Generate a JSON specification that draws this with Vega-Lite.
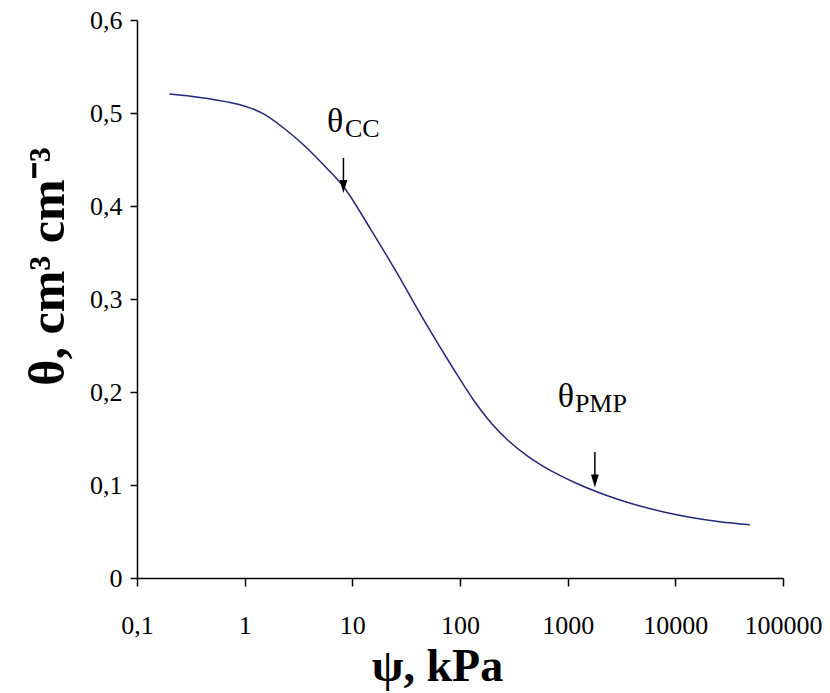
{
  "$schema": "https://vega.github.io/schema/vega-lite/v6.json",
  "autosize": {"type": "none"},
  "padding": {"left": 137, "top": 20, "right": 47, "bottom": 115},
  "width": 646,
  "height": 558,
  "background": "white",
  "config": {
    "view": {"stroke": null},
    "font": "Liberation Serif"
  },
  "datasets": {
    "curve": [
      {"psi": 0.2, "theta": 0.5204},
      {"psi": 0.385, "theta": 0.5167},
      {"psi": 0.73, "theta": 0.5113},
      {"psi": 1.006, "theta": 0.5073},
      {"psi": 1.246, "theta": 0.5035},
      {"psi": 1.511, "theta": 0.4987},
      {"psi": 2.317, "theta": 0.4836},
      {"psi": 3.553, "theta": 0.4653},
      {"psi": 5.449, "theta": 0.4438},
      {"psi": 8.356, "theta": 0.4202},
      {"psi": 14.57, "theta": 0.3763},
      {"psi": 25.95, "theta": 0.328},
      {"psi": 47.22, "theta": 0.2753},
      {"psi": 85.94, "theta": 0.2258},
      {"psi": 137.5, "theta": 0.1892},
      {"psi": 202.2, "theta": 0.1645},
      {"psi": 290.6, "theta": 0.1462},
      {"psi": 418, "theta": 0.1316},
      {"psi": 588.5, "theta": 0.1204},
      {"psi": 846.6, "theta": 0.1103},
      {"psi": 1217, "theta": 0.1016},
      {"psi": 1789, "theta": 0.0935},
      {"psi": 2863, "theta": 0.0849},
      {"psi": 4681, "theta": 0.0774},
      {"psi": 7989, "theta": 0.0708},
      {"psi": 13640, "theta": 0.0654},
      {"psi": 25900, "theta": 0.0605},
      {"psi": 49160, "theta": 0.0573}
    ],
    "arrows": [
      {"name": "CC", "psi": 8.27, "top": 0.4516, "bottom": 0.4247, "head": 0.421},
      {"name": "PMP", "psi": 1789, "top": 0.1355, "bottom": 0.1097, "head": 0.1043}
    ],
    "labels": [
      {"name": "CC", "psiMain": 5.81, "thetaMain": 0.4796, "psiSub": 8.53, "thetaSub": 0.4742, "sub": "CC"},
      {"name": "PMP", "psiMain": 811, "thetaMain": 0.1839, "psiSub": 1167, "thetaSub": 0.1785, "sub": "PMP"}
    ]
  },
  "encoding": {
    "x": {
      "field": "psi",
      "type": "quantitative",
      "scale": {"type": "log", "domain": [0.1, 100000], "nice": false},
      "axis": {
        "title": "ψ, kPa",
        "values": [0.1, 1, 10, 100, 1000, 10000, 100000],
        "labelExpr": "datum.value < 1 ? '0,1' : format(datum.value, 'd')",
        "labelFlush": false,
        "labelOverlap": false,
        "grid": false,
        "domainColor": "black",
        "domainWidth": 1.5,
        "tickColor": "black",
        "tickWidth": 1.5,
        "tickSize": 8,
        "labelFont": "Liberation Serif",
        "labelFontSize": 26,
        "labelColor": "black",
        "labelPadding": 26,
        "labelBaseline": "top",
        "titleFont": "Liberation Serif",
        "titleFontSize": 46,
        "titleFontWeight": "bold",
        "titleColor": "black",
        "titleX": 300,
        "titleY": 102,
        "titleBaseline": "alphabetic",
        "titleAnchor": null
      }
    },
    "y": {
      "field": "theta",
      "type": "quantitative",
      "scale": {"domain": [0, 0.6], "nice": false, "zero": true},
      "axis": {
        "title": "θ, cm³ cm⁻³",
        "values": [0, 0.1, 0.2, 0.3, 0.4, 0.5, 0.6],
        "labelExpr": "datum.value == 0 ? '0' : replace(format(datum.value, '.1f'), '.', ',')",
        "labelFlush": false,
        "labelOverlap": false,
        "grid": false,
        "domainColor": "black",
        "domainWidth": 1.5,
        "tickColor": "black",
        "tickWidth": 1.5,
        "tickSize": 7,
        "labelFont": "Liberation Serif",
        "labelFontSize": 26,
        "labelColor": "black",
        "labelPadding": 8,
        "titleFont": "Liberation Serif",
        "titleFontSize": 50,
        "titleFontWeight": "bold",
        "titleColor": "black",
        "titleAngle": 270,
        "titleX": -74,
        "titleY": 246,
        "titleBaseline": "alphabetic",
        "titleAlign": "center"
      }
    }
  },
  "layer": [
    {
      "data": {"name": "curve"},
      "mark": {"type": "line", "color": "#25257a", "strokeWidth": 1.5, "interpolate": "monotone"}
    },
    {
      "data": {"name": "arrows"},
      "mark": {"type": "rule", "color": "black", "strokeWidth": 1.5},
      "encoding": {
        "y": {"field": "top", "type": "quantitative"},
        "y2": {"field": "bottom"}
      }
    },
    {
      "data": {"name": "arrows"},
      "mark": {"type": "point", "shape": "M-0.6,-1L0.6,-1L0,1Z", "filled": true, "color": "black", "size": 169, "opacity": 1},
      "encoding": {
        "y": {"field": "head", "type": "quantitative"}
      }
    },
    {
      "data": {"name": "labels"},
      "mark": {"type": "text", "text": "θ", "font": "Liberation Serif", "fontSize": 34, "align": "left", "baseline": "alphabetic", "color": "black"},
      "encoding": {
        "x": {"field": "psiMain", "type": "quantitative"},
        "y": {"field": "thetaMain", "type": "quantitative"}
      }
    },
    {
      "data": {"name": "labels"},
      "mark": {"type": "text", "font": "Liberation Serif", "fontSize": 26, "align": "left", "baseline": "alphabetic", "color": "black"},
      "encoding": {
        "x": {"field": "psiSub", "type": "quantitative"},
        "y": {"field": "thetaSub", "type": "quantitative"},
        "text": {"field": "sub"}
      }
    }
  ]
}
